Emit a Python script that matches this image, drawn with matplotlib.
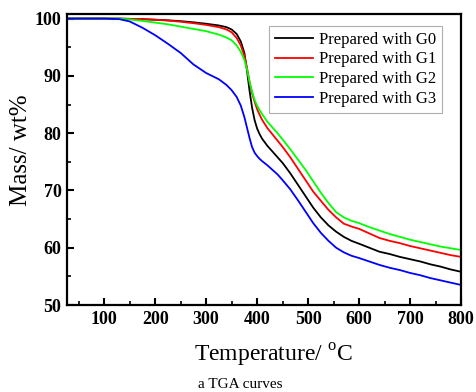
import matplotlib
matplotlib.use("Agg")
import matplotlib.pyplot as plt
from matplotlib.ticker import MultipleLocator

plt.rcParams['font.family'] = ['Liberation Serif', 'DejaVu Serif']
plt.rcParams['mathtext.fontset'] = 'custom'
plt.rcParams['mathtext.rm'] = 'Liberation Serif'

temperature = [30, 100, 130, 150, 175, 200, 225, 250, 275, 300, 325, 340, 350, 360, 368, 375,
               380, 385, 390, 395, 400, 405, 410, 420, 430, 440, 450, 465, 480, 495, 510, 525,
               540, 555, 570, 585, 600, 620, 640, 660, 680, 700, 720, 740, 760, 780, 800]
g0 = [100, 100, 100, 99.95, 99.9, 99.8, 99.7, 99.55, 99.35, 99.1, 98.8, 98.5, 98.1, 97.3, 96.0, 94.0,
      91.0, 87.5, 84.5, 82.3, 80.8, 79.8, 79.0, 77.8, 76.8, 75.8, 74.8, 73.0, 71.0, 69.0, 67.0, 65.3,
      63.9, 62.8, 61.9, 61.2, 60.7, 60.0, 59.3, 58.9, 58.4, 58.0, 57.6, 57.1, 56.7, 56.2, 55.8]
g1 = [100, 100, 100, 99.95, 99.9, 99.8, 99.65, 99.45, 99.2, 98.9, 98.5, 98.1, 97.6, 96.6, 95.3, 93.5,
      91.5, 89.0, 87.0, 85.5, 84.2, 83.2, 82.3, 80.9, 79.8, 78.7, 77.6, 75.8, 73.8, 71.8, 69.8, 68.2,
      66.6, 65.3, 64.2, 63.7, 63.3, 62.5, 61.7, 61.2, 60.8, 60.3, 59.9, 59.5, 59.1, 58.7, 58.4]
g2 = [100, 100, 100, 99.85, 99.6, 99.3, 99.0, 98.6, 98.2, 97.8, 97.2, 96.7, 96.2, 95.3, 94.2, 92.8,
      91.2, 89.0, 87.3, 85.8, 84.8, 84.0, 83.3, 82.0, 81.0, 80.0, 78.9, 77.2, 75.4, 73.6, 71.6, 69.6,
      67.8, 66.2, 65.3, 64.7, 64.3, 63.6, 63.0, 62.4, 61.9, 61.4, 61.0, 60.6, 60.2, 59.9, 59.6]
g3 = [100, 100, 99.9, 99.5, 98.4, 97.1, 95.6, 94.0, 92.0, 90.5, 89.4, 88.4, 87.5, 86.3, 84.8, 82.8,
      81.0, 79.2, 77.6, 76.6, 76.0, 75.5, 75.1, 74.4, 73.6, 72.8, 71.8, 70.2, 68.3, 66.3, 64.3, 62.6,
      61.2, 60.0, 59.2, 58.6, 58.2, 57.6, 57.0, 56.5, 56.1, 55.6, 55.2, 54.7, 54.3, 53.9, 53.5]

series = [
    ("Prepared with G0", g0, "black"),
    ("Prepared with G1", g1, "#ff0000"),
    ("Prepared with G2", g2, "#00ff00"),
    ("Prepared with G3", g3, "#0000ff"),
]

fig = plt.figure(figsize=(4.76, 3.92), dpi=100)
ax = fig.add_axes([67/476, 1-305/392, (461-67)/476, (305-14)/392])

for label, vals, color in series:
    ax.plot(temperature, vals, color=color, lw=1.3, label=label,
            solid_joinstyle='round')

ax.set_xlim(27, 800)
ax.set_ylim(50, 100.8)
ax.xaxis.set_major_locator(MultipleLocator(100))
ax.xaxis.set_minor_locator(MultipleLocator(50))
ax.yaxis.set_major_locator(MultipleLocator(10))
ax.yaxis.set_minor_locator(MultipleLocator(5))
ax.tick_params(which='major', direction='in', length=5, width=1.5, pad=4,
               labelsize=13, top=False, right=False)
ax.tick_params(which='minor', direction='in', length=3, width=1.2, top=False, right=False)
for lab in ax.get_xticklabels() + ax.get_yticklabels():
    lab.set_fontweight('bold')
for s in ax.spines.values():
    s.set_linewidth(1.6)

ax.set_xlabel(r"Temperature/ $^{\rm o}$C", fontsize=17, labelpad=10)
ax.xaxis.label.set_x(0.523)
ax.set_ylabel("Mass/ wt%", fontsize=18)
ax.yaxis.set_label_coords(-0.089, 0.533)

leg = ax.legend(loc='upper right', bbox_to_anchor=(0.952, 0.959), borderaxespad=0,
                fontsize=12, frameon=True, fancybox=False, edgecolor='#999999',
                handlelength=2.3, handletextpad=0.35, labelspacing=0.22,
                borderpad=0.35)
leg.get_frame().set_linewidth(0.8)

fig.text(240/476, 1-385/392, "a TGA curves", fontsize=11, ha='center', va='center')

fig.savefig("out.png", dpi=100)
